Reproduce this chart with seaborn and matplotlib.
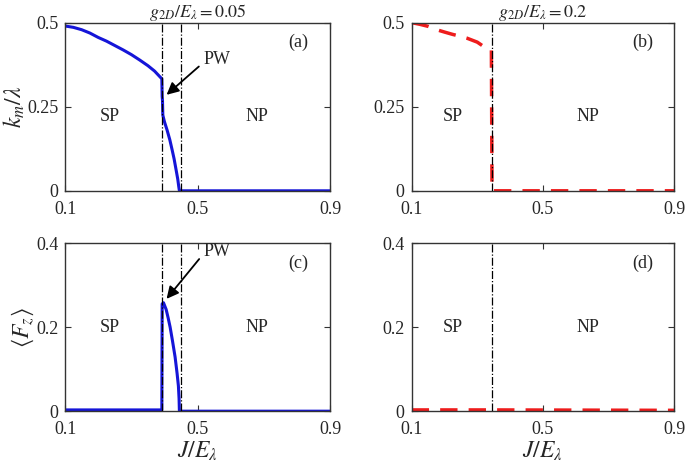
import numpy as np
import pandas as pd
import matplotlib.pyplot as plt
import seaborn as sns

# panel (a): k_m / lambda, g = 0.05
a_x = [0.1, 0.125, 0.15, 0.175, 0.2, 0.225, 0.25, 0.275, 0.3, 0.325, 0.35, 0.37, 0.392,
       0.393, 0.394, 0.395, 0.4, 0.408, 0.416, 0.423, 0.429, 0.435, 0.44, 0.443, 0.445,
       0.6, 0.9]
a_y = [0.49, 0.486, 0.479, 0.469, 0.456, 0.445, 0.432, 0.419, 0.405, 0.389, 0.372, 0.356, 0.333,
       0.28, 0.268, 0.225, 0.205, 0.18, 0.152, 0.122, 0.095, 0.0625, 0.035, 0.013, 0.0,
       0.0, 0.0]

# panel (b): k_m / lambda, g = 0.2
b_x = [0.1, 0.125, 0.15, 0.176, 0.2, 0.225, 0.25, 0.268, 0.3, 0.318, 0.343, 0.345, 0.5, 0.7, 0.9]
b_y = [0.5, 0.495, 0.489, 0.479, 0.472, 0.465, 0.459, 0.454, 0.442, 0.43, 0.42, 0.0, 0.0, 0.0, 0.0]

# panel (c): <F_z>, g = 0.05
c_x = [0.1, 0.3, 0.392, 0.393, 0.397, 0.405, 0.411, 0.417, 0.424, 0.432, 0.438, 0.442, 0.444, 0.445, 0.6, 0.9]
c_y = [0.003, 0.003, 0.003, 0.255, 0.258, 0.242, 0.222, 0.2, 0.168, 0.129, 0.09, 0.06, 0.03, 0.0, 0.0, 0.0]

# panel (d): <F_z>, g = 0.2
d_x = [0.1, 0.345, 0.9]
d_y = [0.003, 0.003, 0.002]

lines_a = [0.392, 0.45]
lines_b = [0.345]

sns.set_theme(style="ticks")
plt.rcParams["font.family"] = ["Liberation Serif", "DejaVu Serif"]
plt.rcParams["mathtext.fontset"] = "stix"
plt.rcParams["xtick.direction"] = "in"
plt.rcParams["ytick.direction"] = "in"

fig = plt.figure(figsize=(6.85, 4.62), dpi=100)
ax_a = fig.add_axes([0.095, 0.587, 0.387, 0.364])
ax_b = fig.add_axes([0.601, 0.587, 0.383, 0.364])
ax_c = fig.add_axes([0.095, 0.110, 0.387, 0.364])
ax_d = fig.add_axes([0.601, 0.110, 0.383, 0.364])

blue = "#1515d8"
red = "#ee1c1c"

sns.lineplot(x=a_x, y=a_y, ax=ax_a, color=blue, lw=2.2, sort=False, estimator=None)
sns.lineplot(x=c_x, y=c_y, ax=ax_c, color=blue, lw=2.2, sort=False, estimator=None)
sns.lineplot(x=b_x, y=b_y, ax=ax_b, color=red, lw=2.5, sort=False, estimator=None)
sns.lineplot(x=d_x, y=d_y, ax=ax_d, color=red, lw=2.5, sort=False, estimator=None)
for ax in (ax_b, ax_d):
    ax.lines[0].set_dashes([5, 3.2])

for ax in (ax_a, ax_c):
    for v in lines_a:
        ax.axvline(v, color="black", lw=0.9, ls="-.", zorder=3)
for ax in (ax_b, ax_d):
    for v in lines_b:
        ax.axvline(v, color="black", lw=0.9, ls="-.", zorder=3)

for ax, top, ticks, lab in [(ax_a, 0.5, [0, 0.25, 0.5], "(a)"), (ax_b, 0.5, [0, 0.25, 0.5], "(b)"),
                            (ax_c, 0.4, [0, 0.2, 0.4], "(c)"), (ax_d, 0.4, [0, 0.2, 0.4], "(d)")]:
    ax.set_xlim(0.1, 0.9)
    ax.set_ylim(0, top)
    ax.set_xticks([0.1, 0.5, 0.9])
    ax.set_xticklabels(["0.1", "0.5", "0.9"])
    ax.set_yticks(ticks)
    ax.set_yticklabels(["0" if t == 0 else f"{t:g}" for t in ticks])
    ax.tick_params(labelsize=13, length=4, width=0.8, top=True, right=True, color="#333333", pad=5)
    ax.tick_params(axis="x", pad=7)
    for s in ax.spines.values():
        s.set_linewidth(1.0)
        s.set_color("#333333")
    ax.text(0.88, 0.88, lab, transform=ax.transAxes, fontsize=13, ha="center", va="center")

ax_a.text(0.236, 0.22, "SP", fontsize=13, ha="center", va="center")
ax_a.text(0.68, 0.22, "NP", fontsize=13, ha="center", va="center")
ax_b.text(0.226, 0.22, "SP", fontsize=13, ha="center", va="center")
ax_b.text(0.638, 0.22, "NP", fontsize=13, ha="center", va="center")
ax_c.text(0.236, 0.2, "SP", fontsize=13, ha="center", va="center")
ax_c.text(0.68, 0.2, "NP", fontsize=13, ha="center", va="center")
ax_d.text(0.226, 0.2, "SP", fontsize=13, ha="center", va="center")
ax_d.text(0.638, 0.2, "NP", fontsize=13, ha="center", va="center")

arrow = dict(arrowstyle="-|>", color="black", lw=1.3, mutation_scale=18)
ax_a.annotate("", xy=(0.400, 0.28), xytext=(0.51, 0.375), arrowprops=arrow)
ax_a.text(0.56, 0.39, "PW", fontsize=13, ha="center", va="center")
ax_c.annotate("", xy=(0.401, 0.262), xytext=(0.51, 0.367), arrowprops=arrow)
ax_c.text(0.56, 0.38, "PW", fontsize=13, ha="center", va="center")

ax_a.set_title(r"$g_{2D}/E_\lambda = 0.05$", fontsize=13, pad=4)
ax_b.set_title(r"$g_{2D}/E_\lambda = 0.2$", fontsize=13, pad=4)
ax_a.set_ylabel(r"$k_m/\lambda$", fontsize=17, labelpad=0)
ax_c.set_ylabel(r"$\langle F_z\rangle$", fontsize=17, labelpad=0)
ax_c.set_xlabel(r"$J/E_\lambda$", fontsize=17, labelpad=1)
ax_d.set_xlabel(r"$J/E_\lambda$", fontsize=17, labelpad=1)

fig.savefig("out.png", dpi=100)
